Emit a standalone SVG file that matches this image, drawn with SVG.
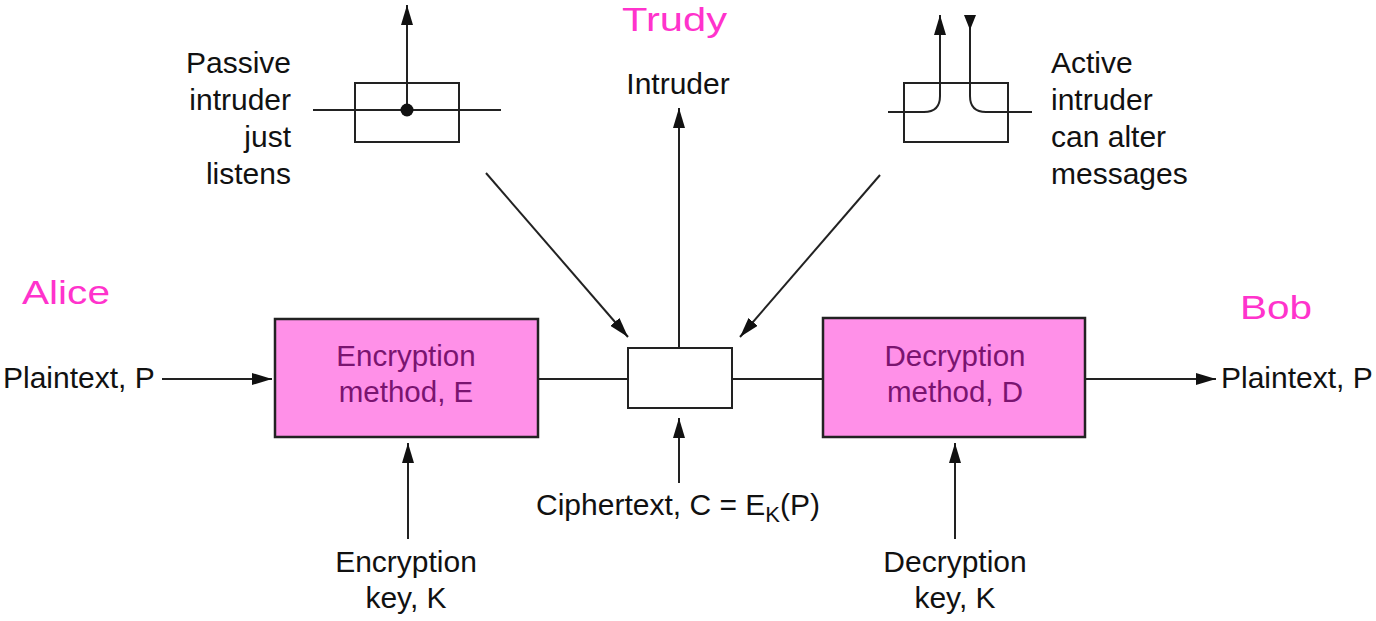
<svg xmlns="http://www.w3.org/2000/svg" width="1376" height="621" viewBox="0 0 1376 621">
<defs>
<style>
.t{font-family:"Liberation Sans",Arial,sans-serif;font-size:30px;fill:#111}
.pk{font-family:"Liberation Sans",Arial,sans-serif;font-size:34px;fill:#ff33cc}
.bt{font-family:"Liberation Sans",Arial,sans-serif;font-size:29.5px;fill:#7a1470;text-anchor:middle}
.box{fill:#ff90e8;stroke:#222;stroke-width:2.5}
.wb{fill:#fff;stroke:#222;stroke-width:2}
.ln{fill:none;stroke:#222;stroke-width:2}
.ar{fill:none;stroke:#222;stroke-width:2;marker-end:url(#ah)}
</style>
<marker id="ah" viewBox="0 0 20 12" markerWidth="20" markerHeight="12" refX="20" refY="6" orient="auto" markerUnits="userSpaceOnUse">
<path d="M0,0 L20,6 L0,12 z" fill="#111"/>
</marker>
</defs>
<rect width="1376" height="621" fill="#fff"/>

<g id="labels">
<text class="pk" x="622" y="31" textLength="105" lengthAdjust="spacingAndGlyphs">Trudy</text>
<text class="pk" x="22" y="304" textLength="88" lengthAdjust="spacingAndGlyphs">Alice</text>
<text class="pk" x="1240" y="319" textLength="72" lengthAdjust="spacingAndGlyphs">Bob</text>
<text class="t" x="678" y="94" text-anchor="middle">Intruder</text>
<g text-anchor="end">
<text class="t" x="291" y="73">Passive</text>
<text class="t" x="291" y="110">intruder</text>
<text class="t" x="291" y="147">just</text>
<text class="t" x="291" y="184">listens</text>
</g>
<text class="t" x="1051" y="73">Active</text>
<text class="t" x="1051" y="110">intruder</text>
<text class="t" x="1051" y="147">can alter</text>
<text class="t" x="1051" y="184">messages</text>
<text class="t" x="3" y="388">Plaintext, P</text>
<text class="t" x="1221" y="388">Plaintext, P</text>
<text class="t" x="678" y="515" text-anchor="middle">Ciphertext, C = E<tspan font-size="22" dy="7">K</tspan><tspan dy="-7">(P)</tspan></text>
<g text-anchor="middle">
<text class="t" x="406" y="572">Encryption</text>
<text class="t" x="406" y="608">key, K</text>
<text class="t" x="955" y="572">Decryption</text>
<text class="t" x="955" y="608">key, K</text>
</g>
</g>

<g id="passive">
<rect class="wb" x="355" y="83" width="104" height="59"/>
</g>
<g id="active">
<rect class="wb" x="904" y="83" width="104" height="59"/>
</g>

<g id="encryption">
<rect class="box" x="275" y="319" width="263" height="118"/>
<text class="bt" x="406" y="366">Encryption</text>
<text class="bt" x="406" y="402">method, E</text>
</g>
<g id="decryption">
<rect class="box" x="823" y="318" width="262" height="119"/>
<text class="bt" x="955" y="366">Decryption</text>
<text class="bt" x="955" y="402">method, D</text>
</g>
<g id="channel">
<rect class="wb" x="628" y="348" width="104" height="60"/>
</g>

<g id="connectors">
<path class="ln" d="M313,110 H501"/>
<path class="ar" d="M407,110 V5"/>
<circle cx="407" cy="110" r="6.5" fill="#111"/>
<path class="ar" d="M888,112 H924 Q940,112 940,96 V15"/>
<path class="ln" d="M1032,112 H986 Q970,112 970,96 V15"/>
<polygon points="964,15 976,15 970,30" fill="#111"/>
<path class="ar" d="M162,379 H272"/>
<path class="ln" d="M538,379 H628"/>
<path class="ln" d="M732,379 H823"/>
<path class="ar" d="M1085,379 H1216"/>
<path class="ar" d="M679,348 V108"/>
<path class="ar" d="M679,483 V418"/>
<path class="ar" d="M408,539 V443"/>
<path class="ar" d="M955,539 V443"/>
<path class="ar" d="M486,173 L628,337"/>
<path class="ar" d="M880,175 L740,337"/>
</g>
</svg>
